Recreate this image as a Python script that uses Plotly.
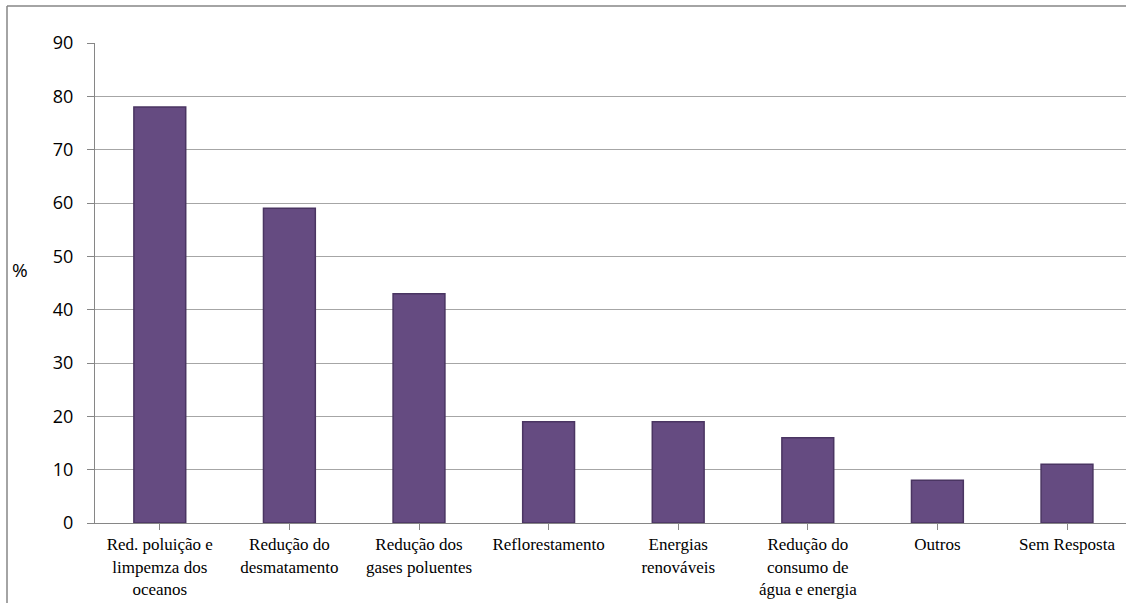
import plotly.graph_objects as go

categories = [
    "Red. poluição e<br>limpemza dos<br>oceanos",
    "Redução do<br>desmatamento",
    "Redução dos<br>gases poluentes",
    "Reflorestamento",
    "Energias<br>renováveis",
    "Redução do<br>consumo de<br>água e energia",
    "Outros",
    "Sem Resposta",
]
values = [78, 59, 43, 19, 19, 16, 8, 11]
y_ticks = [0, 10, 20, 30, 40, 50, 60, 70, 80, 90]

L, T, W, H = 95, 43, 1126, 603
plot_w = W - L
plot_h = 480
B = H - T - plot_h

fig = go.Figure()
fig.add_trace(go.Bar(
    x=list(range(len(categories))),
    y=values,
    width=0.4,
    marker=dict(color="#654B81", line=dict(color="#4A3562", width=1.5)),
    hoverinfo="y",
))

cat_w = 129.6
xmax = -0.5 + plot_w / cat_w

fig.update_layout(
    width=W, height=H,
    margin=dict(l=L, r=0, t=T, b=B, autoexpand=False),
    paper_bgcolor="white", plot_bgcolor="white",
    showlegend=False,
    xaxis=dict(
        range=[-0.5, xmax],
        tickmode="array",
        tickvals=list(range(len(categories))),
        ticktext=categories,
        tickson="boundaries",
        ticks="outside", ticklen=6, tickcolor="#868686",
        showgrid=False,
        showline=True, linecolor="#868686", linewidth=1,
        tickfont=dict(family="Liberation Serif, DejaVu Serif, serif", size=17, color="black"),
        tickangle=0,
        automargin=False,
    ),
    yaxis=dict(
        range=[0, 90],
        tickvals=y_ticks,
        ticks="outside", ticklen=7, tickcolor="#868686",
        ticklabelstandoff=10,
        showgrid=True, gridcolor="#A6A6A6", gridwidth=1,
        showline=True, linecolor="#868686", linewidth=1,
        zeroline=False,
        tickfont=dict(family="Open Sans", size=18, color="black"),
        automargin=False,
    ),
)

fig.add_annotation(
    text="%", xref="paper", yref="paper",
    x=(20 - L) / plot_w, y=(H - B - 270) / plot_h,
    showarrow=False, xanchor="center", yanchor="middle",
    font=dict(family="Open Sans", size=19, color="black"),
)

fx = (7 - L) / plot_w
fy_top = (H - B - 6) / plot_h
fy_bot = (H - B - H - 5) / plot_h
fx_right = (W + 5 - L) / plot_w
fig.add_shape(type="line", xref="paper", yref="paper",
              x0=fx, x1=fx_right, y0=fy_top, y1=fy_top,
              line=dict(color="#868686", width=1.5))
fig.add_shape(type="line", xref="paper", yref="paper",
              x0=fx, x1=fx, y0=fy_top, y1=fy_bot,
              line=dict(color="#868686", width=1.5))

fig.write_html("out.html")
